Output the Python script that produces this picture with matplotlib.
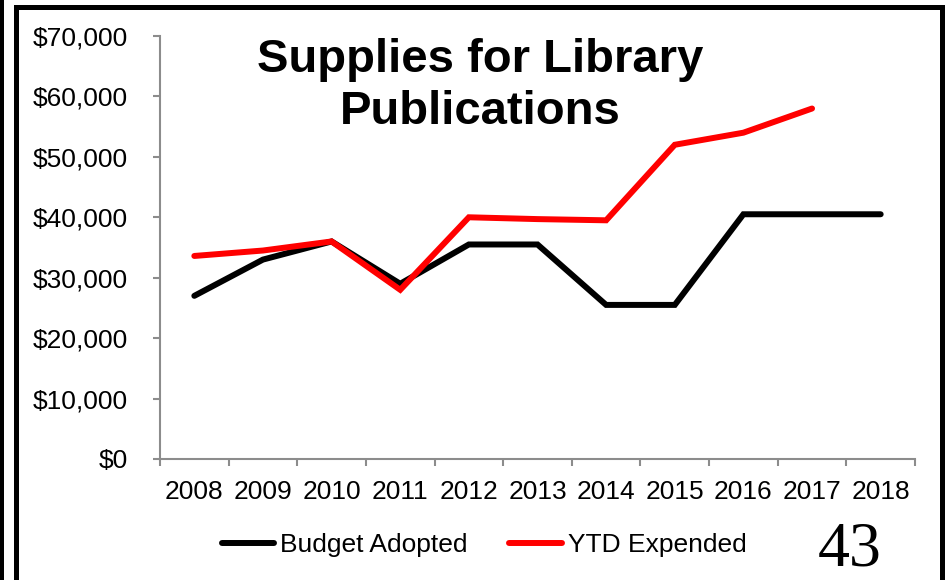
import numpy as np
import matplotlib.pyplot as plt
from matplotlib.patches import Rectangle
from matplotlib.ticker import FuncFormatter

plt.rcParams['font.family'] = ['Liberation Sans', 'DejaVu Sans']

years = ['2008', '2009', '2010', '2011', '2012', '2013',
         '2014', '2015', '2016', '2017', '2018']
budget_adopted = [27000, 33000, 36000, 29000, 35500, 35500,
                  25500, 25500, 40500, 40500, 40500]
ytd_expended = [33600, 34500, 36000, 28000, 40000, 39700,
                39500, 52000, 54000, 58000]

W, H = 946, 580
fig = plt.figure(figsize=(W / 100, H / 100), dpi=100)


def fx(px):
    return px / W


def fy(py):
    return 1 - py / H


ax = fig.add_axes([fx(160), fy(459), fx(915) - fx(160), fy(36) - fy(459)])

x = np.arange(len(years))
ax.plot(x, budget_adopted, color='black', lw=4.3, solid_capstyle='round',
        solid_joinstyle='miter', label='Budget Adopted')
ax.plot(x[:len(ytd_expended)], ytd_expended, color='#ff0000', lw=4.3,
        solid_capstyle='round', solid_joinstyle='miter', label='YTD Expended')

ax.set_xlim(-0.5, len(years) - 0.5)
ax.set_ylim(0, 70000)
ax.set_yticks(np.arange(0, 70001, 10000))
ax.yaxis.set_major_formatter(FuncFormatter(lambda v, p: '${:,.0f}'.format(v)))
ax.set_xticks(x)
ax.set_xticklabels(years)
ax.set_xticks(np.arange(-0.5, len(years), 1), minor=True)

for side in ['top', 'right']:
    ax.spines[side].set_visible(False)
for side in ['left', 'bottom']:
    ax.spines[side].set_color('#8c8c8c')
    ax.spines[side].set_linewidth(1.5)

ax.tick_params(axis='y', length=5, width=1.5, color='#8c8c8c', labelsize=19, pad=18)
ax.tick_params(axis='x', which='major', length=0, labelsize=19, pad=15)
ax.tick_params(axis='x', which='minor', length=5, width=1.5, color='#8c8c8c')

fig.text(fx(480), fy(86), 'Supplies for Library\nPublications', ha='center',
         va='center', fontsize=34, fontweight='bold', linespacing=1.26)

fig.legend(loc='center', bbox_to_anchor=(fx(484), fy(545)), ncol=2, frameon=False,
           fontsize=19, handlelength=2.0, handletextpad=0.2, columnspacing=1.6)

fig.text(fx(850), fy(550), '43', ha='center', va='center', fontsize=46,
         family='Liberation Serif')

# outer frame and the strip at the left edge
fig.add_artist(Rectangle((fx(16), fy(610)), fx(941.5) - fx(16), fy(7) - fy(610),
                         transform=fig.transFigure, fill=False, edgecolor='black',
                         lw=3.6, clip_on=False))
fig.add_artist(Rectangle((0, 0), fx(3.5), 1, transform=fig.transFigure,
                         facecolor='black', edgecolor='none'))

fig.savefig('out.png', dpi=100)
